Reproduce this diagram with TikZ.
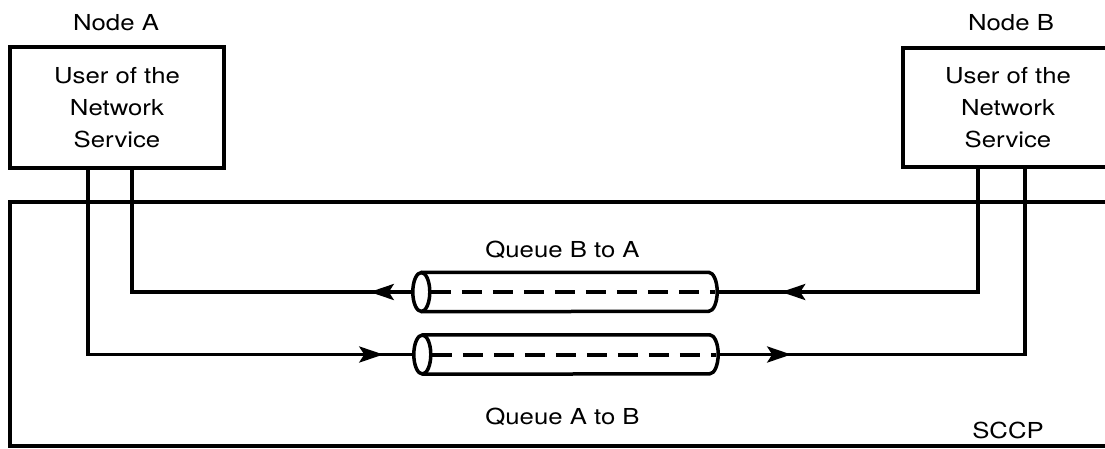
\documentclass[tikz,border=0pt]{standalone}
\usepackage{fontspec}
\setmainfont{TeX Gyre Heros}
\usepackage{graphicx}
\usetikzlibrary{arrows.meta,decorations.markings,calc}
\newcommand{\hsc}[1]{\scalebox{1.17}[1]{#1}}
\newcommand{\drawqueue}[1]{%
  \draw[qline] ($(#1.north west)+(8.5,0)$) -- ($(#1.north east)+(-8.5,0)$)
    arc[start angle=-90, end angle=90, x radius=8.5, y radius=19.5]
    -- ($(#1.south west)+(8.5,0)$);
  \draw[qline] ($(#1.west)+(8.5,0)$) ellipse[x radius=8.5, y radius=19.5];
  \draw[dashline] ($(#1.west)+(18,0)$) -- ($(#1.east)+(-2,0)$);}
\begin{document}
\begin{tikzpicture}[x=1pt,y=-1pt,
  txt/.style={font=\fontsize{22}{32}\selectfont, inner sep=0},
  box/.style={draw, line width=3.5pt, inner sep=0, align=center, font=\fontsize{22}{32}\selectfont},
  conn/.style={line width=3.5pt},
  queue/.style={minimum width=304, minimum height=39, inner sep=0},
  qline/.style={line width=3.5pt},
  dashline/.style={line width=4pt, dash pattern=on 20pt off 11pt},
  arrowat/.style={postaction={decorate}, decoration={markings, mark=at position #1 with {\arrow{Stealth[length=24pt,width=16pt,inset=5pt]}}}}]
\useasboundingbox (0,0) rectangle (1105,448);
\fill[white] (0,0) rectangle (1105,448);
% frame
\node[draw, line width=3.5pt, minimum width=1105, minimum height=244, inner sep=0] (sccp) at (562.5,324) {};
\node[txt, anchor=base] (sccpl) at (1008,438) {\hsc{SCCP}};
% users
\node[txt, anchor=base] (la) at (116,30) {\hsc{Node A}};
\node[txt, anchor=base] (lb) at (1011,30) {\hsc{Node B}};
\node[box, minimum width=214, minimum height=121] (userA) at (117,107.5) {\hsc{User of the}\\\hsc{Network}\\\hsc{Service}};
\node[box, minimum width=210, minimum height=119] (userB) at (1008,107.5) {\hsc{User of the}\\\hsc{Network}\\\hsc{Service}};
% queues
\node[queue] (qba) at (565,292) {};
\node[queue] (qab) at (566,354.5) {};
\drawqueue{qba}
\drawqueue{qab}
\node[txt, anchor=base] (tba) at (562.5,257) {\hsc{Queue B to A}};
\node[txt, anchor=base] (tab) at (562.5,424) {\hsc{Queue A to B}};
% connectors
\coordinate (xa1) at (88,0);
\coordinate (xa2) at (132,0);
\coordinate (xb1) at (978,0);
\coordinate (xb2) at (1025,0);
\draw[conn, arrowat=43pt] (qba.west) -| (userA.south -| xa2);
\draw[conn, arrowat=320pt] (userB.south -| xb1) |- (qba.east);
\draw[conn, arrowat=480pt] (userA.south -| xa1) |- (qab.west);
\draw[conn, arrowat=73pt] (qab.east) -| (userB.south -| xb2);
\end{tikzpicture}
\end{document}
